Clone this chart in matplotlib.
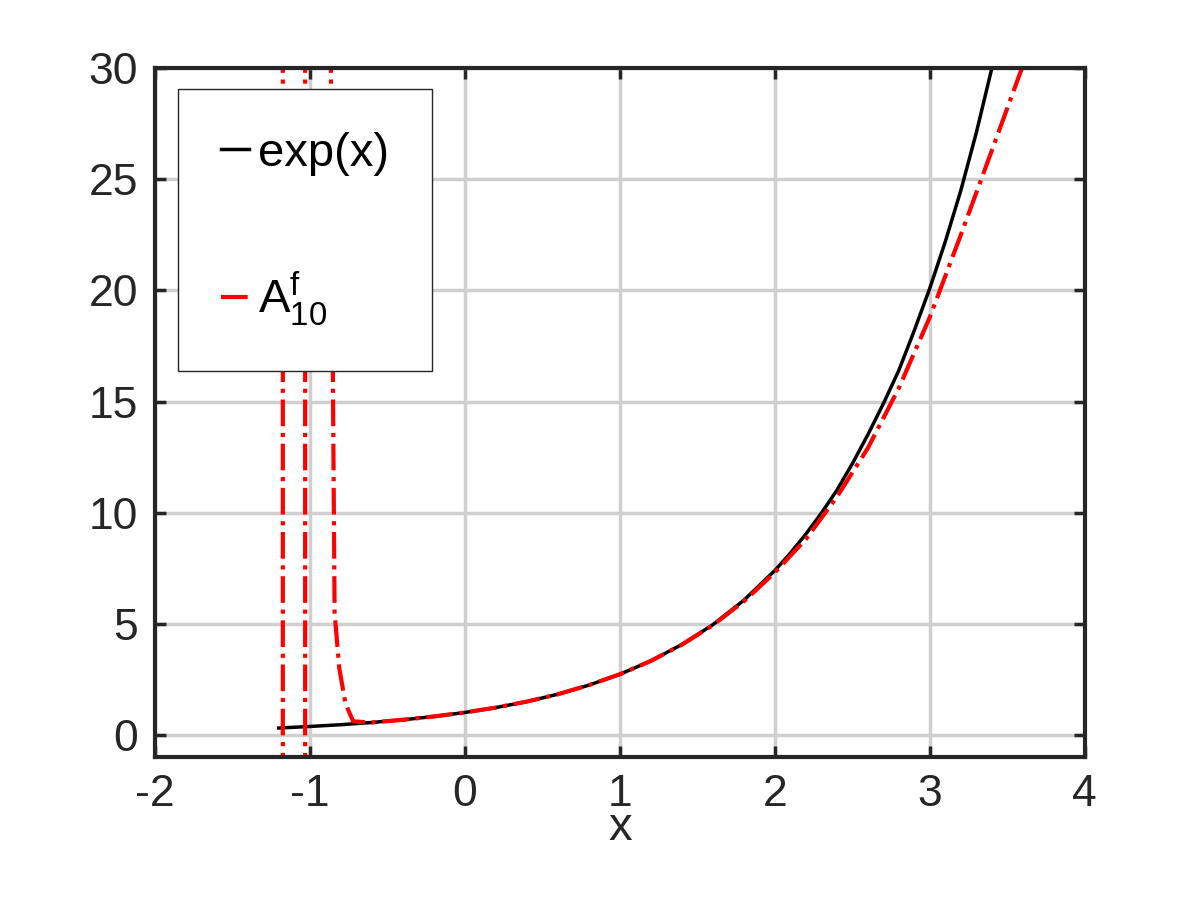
import numpy as np
import matplotlib
matplotlib.use("Agg")
import matplotlib.pyplot as plt

# exp(x)
exp_x = [-1.2, -1.0, -0.8, -0.6, -0.4, -0.2, 0.0, 0.2, 0.4, 0.6, 0.8, 1.0, 1.2, 1.4, 1.6,
         1.8, 2.0, 2.1, 2.2, 2.3, 2.4, 2.5, 2.6, 2.7, 2.8, 2.9, 3.0, 3.1, 3.2, 3.3, 3.4]
exp_y = [0.30, 0.37, 0.45, 0.55, 0.67, 0.82, 1.0, 1.22, 1.49, 1.82, 2.23, 2.72, 3.32, 4.06, 4.95,
         6.05, 7.39, 8.17, 9.03, 9.97, 11.0, 12.2, 13.5, 14.9, 16.4, 18.2, 20.1, 22.2, 24.5,
         27.1, 30.0]

# rational approximant A^f_10 (poles broken with NaN)
app_x = [-1.174, -1.174, np.nan, -1.03, -1.03, np.nan,
         -0.865, -0.855, -0.84, -0.81, -0.77, -0.72, -0.6, -0.4, -0.2, 0.0, 0.2, 0.4, 0.6, 0.8,
         1.0, 1.2, 1.4, 1.6, 1.8, 2.0, 2.2, 2.4, 2.6, 2.8, 3.0, 3.2, 3.4, 3.62]
app_y = [31, -2, np.nan, 31, -2, np.nan,
         31, 20, 5.5, 3.0, 1.4, 0.6, 0.55, 0.67, 0.82, 1.0, 1.22, 1.49, 1.82, 2.23,
         2.72, 3.32, 4.05, 4.93, 6.0, 7.3, 8.8, 10.7, 12.9, 15.6, 18.8, 22.5, 26.3, 30.5]

x_ticks = [-2, -1, 0, 1, 2, 3, 4]
y_ticks = [0, 5, 10, 15, 20, 25, 30]

plt.rcParams['font.family'] = ['Liberation Sans', 'DejaVu Sans']
plt.rcParams['mathtext.default'] = 'regular'
plt.rcParams['axes.unicode_minus'] = False
fig = plt.figure(figsize=(12, 9), dpi=100)
ax = fig.add_axes([0.129, 0.159, 0.775, 0.765])

ax.plot(exp_x, exp_y, color="black", lw=2.5, label="exp(x)")
ax.plot(app_x, app_y, color="red", lw=3, linestyle="-.", label=r"$A^{f}_{10}$")

ax.set_xlim(-2, 4)
ax.set_ylim(-1, 30)
ax.set_xticks(x_ticks)
ax.set_yticks(y_ticks)
ax.grid(True, color="#cfcfcf", lw=2.5)
ax.set_axisbelow(True)
ax.tick_params(direction="in", length=8, width=2.5, labelsize=32, colors="#262626", pad=12,
               top=True, right=True)
for s in ax.spines.values():
    s.set_linewidth(3)
    s.set_color("#262626")
ax.set_xlabel("x", fontsize=34, color="#262626", labelpad=-6)

leg = ax.legend(loc="upper left", bbox_to_anchor=(0.025, 0.97), fontsize=34,
                handlelength=0.6, handletextpad=0.2, labelspacing=2.0,
                borderpad=0.9, fancybox=False, framealpha=1, borderaxespad=0)
leg.get_frame().set_edgecolor("#262626")
leg.get_frame().set_linewidth(1)

fig.savefig("out.png", dpi=100)
